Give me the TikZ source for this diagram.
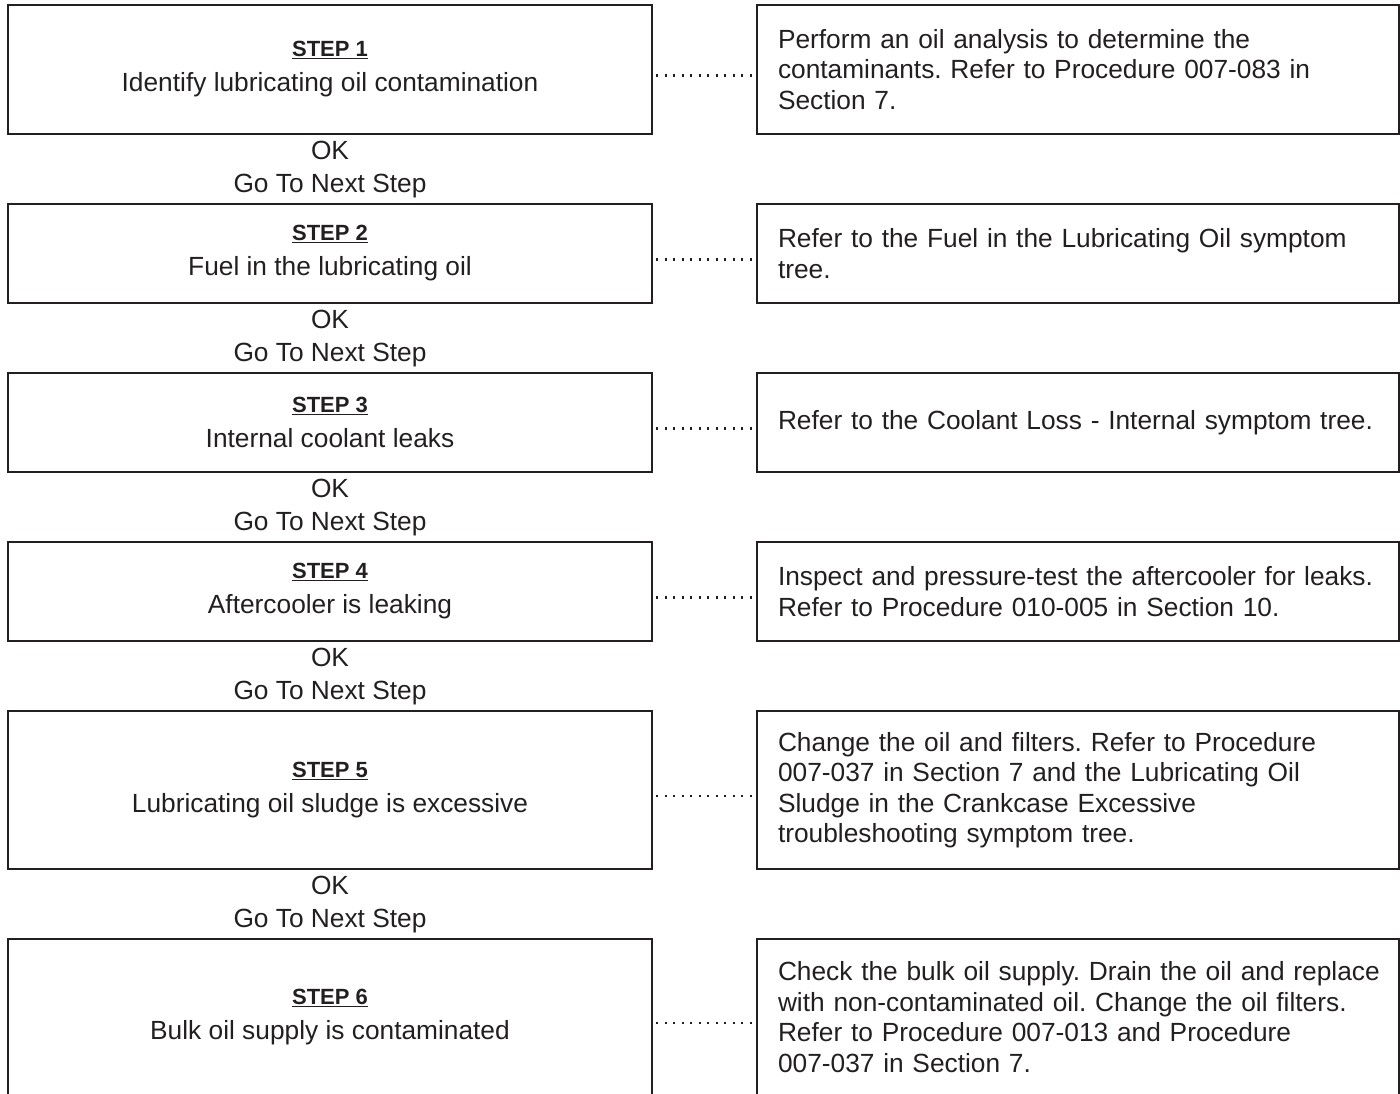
\documentclass[tikz,border=0pt]{standalone}
\usepackage{fontspec}
\setmainfont{Liberation Sans}
\frenchspacing
\hyphenpenalty=10000
\exhyphenpenalty=10000
\definecolor{ink}{HTML}{231F20}
\newcommand{\steplabel}[1]{{\fontsize{22}{26}\selectfont\bfseries\underline{#1}}}
\begin{document}
\begin{tikzpicture}[x=1pt, y=-1pt,
    stepbox/.style={draw=ink, line width=2pt, minimum width=644pt, align=center,
        inner sep=0pt, text=ink, font=\fontsize{26.3}{31}\selectfont},
    actionbox/.style={draw=ink, line width=2pt, minimum width=642pt, align=left,
        inner sep=0pt, text=ink, text width=600pt, font=\fontsize{26.3}{30.5}\selectfont},
    okmark/.style={align=center, text=ink, font=\fontsize{26.3}{33}\selectfont},
    leader/.style={ink, line width=2.3pt, dash pattern=on 2.2pt off 6.3pt}]
    \useasboundingbox (0,0) rectangle (1400,1093);

    % left column: steps
    \node[stepbox, minimum height=129pt] (s1) at (330,69.5) {\steplabel{STEP 1}\\[4pt] Identify lubricating oil contamination};
    \node[stepbox, minimum height=99pt] (s2) at (330,253.5) {\steplabel{STEP 2}\\[4pt] Fuel in the lubricating oil};
    \node[stepbox, minimum height=99pt] (s3) at (330,422.5) {\steplabel{STEP 3}\\[4pt] Internal coolant leaks};
    \node[stepbox, minimum height=99pt] (s4) at (330,591.5) {\steplabel{STEP 4}\\[4pt] Aftercooler is leaking};
    \node[stepbox, minimum height=158pt] (s5) at (330,790) {\steplabel{STEP 5}\\[4pt] Lubricating oil sludge is excessive};
    \node[stepbox, minimum height=156pt] (s6) at (330,1017) {\steplabel{STEP 6}\\[4pt] Bulk oil supply is contaminated};

    % OK labels between steps
    \node[okmark] (ok1) at (330,170) {OK\\Go To Next Step};
    \node[okmark] (ok2) at (330,339) {OK\\Go To Next Step};
    \node[okmark] (ok3) at (330,508) {OK\\Go To Next Step};
    \node[okmark] (ok4) at (330,677) {OK\\Go To Next Step};
    \node[okmark] (ok5) at (330,905) {OK\\Go To Next Step};

    % right column: actions
    \node[actionbox, minimum height=129pt] (a1) at (1078,69.5) {Perform an oil analysis to determine the\\contaminants. Refer to Procedure 007-083 in\\Section 7.};
    \node[actionbox, minimum height=99pt] (a2) at (1078,253.5) {Refer to the Fuel in the Lubricating Oil symptom\\tree.};
    \node[actionbox, minimum height=99pt] (a3) at (1078,422.5) {Refer to the Coolant Loss - Internal symptom tree.};
    \node[actionbox, minimum height=99pt] (a4) at (1078,591.5) {Inspect and pressure-test the aftercooler for leaks.\\Refer to Procedure 010-005 in Section 10.};
    \node[actionbox, minimum height=158pt] (a5) at (1078,790) {Change the oil and filters. Refer to Procedure\\007-037 in Section 7 and the Lubricating Oil\\Sludge in the Crankcase Excessive\\troubleshooting symptom tree.};
    \node[actionbox, minimum height=156pt] (a6) at (1078,1017) {\mbox{Check the bulk oil supply. Drain the oil and replace}\\with non-contaminated oil. Change the oil filters.\\Refer to Procedure 007-013 and Procedure\\007-037 in Section 7.};

    % dotted leaders
    \draw[leader] ([xshift=3pt, yshift=-6pt]s1.east) -- ([xshift=-3pt, yshift=-6pt]a1.west);
    \draw[leader] ([xshift=3pt, yshift=-6pt]s2.east) -- ([xshift=-3pt, yshift=-6pt]a2.west);
    \draw[leader] ([xshift=3pt, yshift=-6pt]s3.east) -- ([xshift=-3pt, yshift=-6pt]a3.west);
    \draw[leader] ([xshift=3pt, yshift=-6pt]s4.east) -- ([xshift=-3pt, yshift=-6pt]a4.west);
    \draw[leader] ([xshift=3pt, yshift=-6pt]s5.east) -- ([xshift=-3pt, yshift=-6pt]a5.west);
    \draw[leader] ([xshift=3pt, yshift=-6pt]s6.east) -- ([xshift=-3pt, yshift=-6pt]a6.west);
\end{tikzpicture}
\end{document}
